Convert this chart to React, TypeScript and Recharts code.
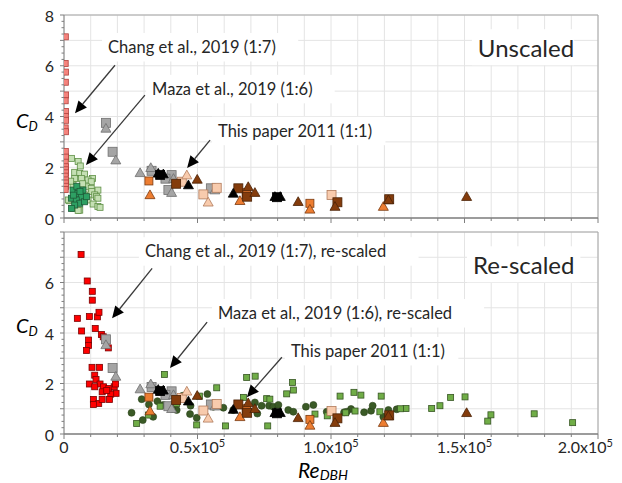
import React from "react";
import {
  CartesianGrid,
  ReferenceDot,
  ReferenceLine,
  Scatter,
  ScatterChart,
  XAxis,
  YAxis,
} from "recharts";

type Pt = [number, number];

// [Re_DBH, C_D]
const changUnscaled: Pt[] = [
  [500, 7.14], [450, 6.09], [550, 5.75], [500, 5.35], [600, 4.85], [450, 4.62],
  [550, 4.2], [500, 4.0], [600, 3.85], [450, 3.55], [550, 3.4], [500, 2.62],
  [600, 2.4], [450, 2.2], [550, 2.02], [500, 1.9], [600, 1.78], [450, 1.65],
  [550, 1.5], [500, 1.38], [600, 1.25], [450, 1.12],
];

const changRescaled: Pt[] = [
  [6400, 7.11], [8700, 6.06], [10600, 5.65], [10600, 5.3], [5000, 4.58], [9500, 4.65],
  [12500, 4.64], [13100, 4.82], [11700, 4.18], [6600, 4.08], [14000, 3.94], [14700, 3.85],
  [9200, 3.72], [9200, 3.51], [8400, 3.31], [16600, 3.41],
  [10500, 2.64], [13300, 2.64], [11500, 2.33], [12000, 2.16], [9500, 1.98], [13500, 1.98],
  [11500, 1.87], [14800, 1.87], [16800, 1.8], [18800, 1.87], [19300, 1.98], [19500, 1.61],
  [14300, 1.67], [17500, 1.58], [11000, 1.37], [13000, 1.21], [11000, 1.17], [17000, 1.37],
  [14300, 1.37], [16000, 1.72],
];

const mazaLightUnscaled: Pt[] = [
  [2800, 2.35], [5300, 2.23], [6100, 2.05], [4000, 1.8], [5900, 1.76], [7700, 1.73],
  [4000, 1.56], [6500, 1.56], [10700, 1.56], [9000, 1.5], [10200, 1.43], [3400, 1.3],
  [8400, 1.23], [10200, 1.17], [12700, 1.1], [10400, 1.04], [7700, 0.91], [11500, 0.91],
  [12200, 0.84], [12700, 0.78], [2100, 0.68], [4600, 0.64], [9000, 0.71], [10900, 0.55],
  [12700, 0.45], [13500, 0.42], [3400, 0.38], [5900, 0.31], [5300, 0.3], [1600, 0.71],
  [2500, 1.45], [7000, 1.35],
];

const mazaDarkUnscaled: Pt[] = [
  [3400, 1.1], [5200, 0.97], [6500, 0.84], [2800, 0.78], [4600, 0.71], [5900, 0.58],
  [7700, 0.64], [4000, 0.51], [2800, 0.38], [8400, 0.84], [7100, 1.1], [4800, 1.25],
  [6000, 1.05], [3500, 0.9],
];

const mazaSquaresRescaled: Pt[] = [
  [103400, 1.5], [108600, 1.65], [111200, 1.54], [118800, 1.5], [144800, 1.45], [150200, 1.47],
  [137700, 1.01], [140800, 1.12], [128100, 1.01], [126000, 1.0], [118300, 0.88], [109000, 0.91],
  [98600, 0.72], [94000, 0.79], [158700, 0.51], [159900, 0.76], [176100, 0.8], [190500, 0.45],
  [68400, 2.24], [71600, 2.29], [85600, 2.04], [85900, 1.74], [83400, 1.59], [57200, 1.83],
  [67200, 1.45], [75900, 1.4], [77100, 1.38], [49700, 0.36], [60500, 0.32], [76300, 0.32],
  [105500, 0.84], [37600, 2.36], [27200, 0.42], [31600, 0.75], [50700, 1.5], [42200, 1.21],
  [36000, 1.1],
];

const mazaCirclesRescaled: Pt[] = [
  [25300, 0.84], [29100, 1.38], [31800, 1.17], [29500, 0.55], [33400, 0.68], [37200, 1.15],
  [39700, 1.05], [42200, 0.95], [47200, 0.79], [49700, 0.64], [53700, 1.58], [55900, 1.08],
  [44400, 1.51], [47400, 1.12], [59700, 1.04], [63400, 0.95], [71500, 1.25], [72400, 0.81],
  [74000, 1.12], [76800, 1.12], [78400, 1.08], [80300, 1.15], [84000, 0.95], [85900, 0.88],
  [90600, 1.08], [93400, 1.15], [104900, 0.86], [107500, 0.99], [112400, 0.86], [115000, 0.92],
  [115600, 1.12], [119600, 0.68], [121500, 0.95], [98400, 0.88], [105900, 0.88], [124600, 0.98],
  [35000, 1.3], [40500, 1.0],
];

// this paper 2011 (1:1), same in both panels
const greySquares: Pt[] = [[15700, 3.75], [18200, 2.61], [32800, 1.86], [40300, 1.69], [39100, 1.1], [55000, 1.17], [38000, 1.55]];
const greyTriangles: Pt[] = [[15700, 3.53], [19400, 2.28], [28500, 1.78], [32500, 1.98], [40300, 1.0], [56500, 1.1], [41000, 1.55]];
const blackTriangles: Pt[] = [[35300, 1.76], [37200, 1.73], [46600, 1.3], [63400, 0.97], [79000, 0.84], [81000, 0.84]];
const blackSquares: Pt[] = [[79800, 0.82], [36000, 1.7]];
const orangeSquares: Pt[] = [[31800, 1.46], [68200, 0.91], [92100, 0.58], [68400, 1.0]];
const orangeTriangles: Pt[] = [[32200, 0.91], [65900, 0.68], [92100, 0.34], [119600, 0.45]];
const peachSquares: Pt[] = [[44100, 1.43], [52200, 0.93], [57200, 1.19], [100200, 0.91]];
const peachTriangles: Pt[] = [[46000, 1.69], [54000, 0.62]];
const brownTriangles: Pt[] = [[49900, 1.52], [69000, 1.23], [71500, 1.0], [87700, 0.64], [101500, 0.45], [150800, 0.84], [121500, 0.71]];
const brownSquares: Pt[] = [[65300, 1.17], [68600, 0.84], [102400, 0.62], [121800, 0.74], [42000, 1.35]];

const xLabels = ["0", "0.5x10^5", "1.0x10^5", "1.5x10^5", "2.0x10^5"];
const topYLabels = ["0", "2", "4", "6", "8"];
const bottomYLabels = ["0", "2", "4", "6"];

const topNotes = [
  { text: "Chang et al., 2019 (1:7)", x: 16500, y: 6.73, size: 16.5 },
  { text: "Maza et al., 2019 (1:6)", x: 33000, y: 5.08, size: 16.5 },
  { text: "This paper 2011 (1:1)", x: 57700, y: 3.43, size: 16.5 },
  { text: "Unscaled", x: 155000, y: 6.73, size: 24 },
];
const bottomNotes = [
  { text: "Chang et al., 2019 (1:7), re-scaled", x: 30300, y: 7.23, size: 16.5 },
  { text: "Maza et al., 2019 (1:6), re-scaled", x: 57700, y: 4.78, size: 16.5 },
  { text: "This paper 2011 (1:1)", x: 85000, y: 3.28, size: 16.5 },
  { text: "Re-scaled", x: 153200, y: 6.72, size: 24 },
];

const topArrows: [Pt, Pt][] = [
  [[19100, 6.02], [4120, 4.13]],
  [[30300, 4.84], [8240, 2.09]],
  [[54700, 3.07], [46100, 1.97]],
];
const bottomArrows: [Pt, Pt][] = [
  [[33000, 6.56], [18000, 4.58]],
  [[53600, 4.43], [39700, 2.61]],
  [[81600, 3.04], [68500, 1.46]],
];

const X_MAX = 200000;
const xTicks = Array.from({ length: 21 }, (_, i) => i * 10000);
const yTicks = Array.from({ length: 33 }, (_, i) => i * 0.25);
const gridX = xTicks;
const gridY = [0, 1, 2, 3, 4, 5, 6, 7, 8];

type Kind = "square" | "triangle" | "circle";
interface Series {
  data: Pt[];
  kind: Kind;
  size: number;
  fill: string;
  stroke: string;
}

const paperSeries: Series[] = [
  { data: greySquares, kind: "square", size: 9, fill: "#a5a5a5", stroke: "#6f6f6f" },
  { data: greyTriangles, kind: "triangle", size: 10, fill: "#a5a5a5", stroke: "#6f6f6f" },
  { data: peachSquares, kind: "square", size: 9, fill: "#f8cbad", stroke: "#b07a5a" },
  { data: peachTriangles, kind: "triangle", size: 10, fill: "#f8cbad", stroke: "#b07a5a" },
  { data: orangeSquares, kind: "square", size: 8, fill: "#ed7d31", stroke: "#7a3a10" },
  { data: orangeTriangles, kind: "triangle", size: 10, fill: "#ed7d31", stroke: "#7a3a10" },
  { data: brownSquares, kind: "square", size: 9, fill: "#843c0c", stroke: "#4a2206" },
  { data: brownTriangles, kind: "triangle", size: 10, fill: "#843c0c", stroke: "#4a2206" },
  { data: blackTriangles, kind: "triangle", size: 10, fill: "#000000", stroke: "#000000" },
  { data: blackSquares, kind: "square", size: 9, fill: "#000000", stroke: "#000000" },
];

const topSeries: Series[] = [
  { data: mazaLightUnscaled, kind: "square", size: 6, fill: "#c5e0b4", stroke: "#5e8f45" },
  { data: mazaDarkUnscaled, kind: "square", size: 6, fill: "#2ea063", stroke: "#1d5c38" },
  { data: changUnscaled, kind: "square", size: 6, fill: "#f4837d", stroke: "#b0403c" },
  ...paperSeries,
];

const bottomSeries: Series[] = [
  { data: mazaCirclesRescaled, kind: "circle", size: 7, fill: "#3a5a26", stroke: "#2a4219" },
  { data: mazaSquaresRescaled, kind: "square", size: 6, fill: "#70ad47", stroke: "#375623" },
  { data: changRescaled, kind: "square", size: 6, fill: "#ff0000", stroke: "#7a0000" },
  ...paperSeries,
];

const FONT = "Lato, 'Open Sans', sans-serif";
const AXIS = "#7f7f7f";
const BORDER = "#a6a6a6";

function Marker(p: any) {
  const { cx, cy, kind, size, fill, stroke } = p;
  if (cx == null || cy == null) return null;
  const h = size / 2;
  if (kind === "square") {
    return <rect x={cx - h} y={cy - h} width={size} height={size} fill={fill} stroke={stroke} strokeWidth={0.8} />;
  }
  if (kind === "circle") {
    return <circle cx={cx} cy={cy} r={h} fill={fill} stroke={stroke} strokeWidth={0.6} />;
  }
  const pts = `${cx},${cy - h} ${cx + h},${cy + h * 0.75} ${cx - h},${cy + h * 0.75}`;
  return <polygon points={pts} fill={fill} stroke={stroke} strokeWidth={0.8} />;
}

function Arrow(p: any) {
  const { x1, y1, x2, y2 } = p;
  const dx = x2 - x1;
  const dy = y2 - y1;
  const len = Math.hypot(dx, dy) || 1;
  const ux = dx / len;
  const uy = dy / len;
  const hl = 12;
  const hw = 5.5;
  const bx = x2 - ux * hl;
  const by = y2 - uy * hl;
  const head = `${x2},${y2} ${bx - uy * hw},${by + ux * hw} ${bx + uy * hw},${by - ux * hw}`;
  return (
    <g>
      <line x1={x1} y1={y1} x2={bx} y2={by} stroke="#3a3a3a" strokeWidth={1.3} />
      <polygon points={head} fill="#000" />
    </g>
  );
}

function NoteBox(p: any) {
  const { cx, cy, text, size } = p;
  const w = text.length * size * 0.46 + 14;
  const h = size + 12;
  return (
    <g>
      <rect x={cx - 6} y={cy - h / 2} width={w} height={h} fill="#ffffff" />
      <text x={cx} y={cy} dominantBaseline="central" fontSize={size} fill="#262626" fontFamily={FONT}>
        {text}
      </text>
    </g>
  );
}

function XTick(p: any) {
  const { x, y, payload, showLabels } = p;
  const v = payload.value;
  const major = v % 50000 === 0;
  const raw = showLabels && major ? xLabels[v / 50000] : null;
  let label: React.ReactNode = null;
  if (raw) {
    const [base, sup] = raw.split("^");
    const last = v === X_MAX;
    label = (
      <text
        x={last ? x + 15 : x}
        y={y + 19}
        textAnchor={last ? "end" : "middle"}
        fontSize={16}
        fill="#262626"
        fontFamily={FONT}
      >
        {base}
        {sup && (
          <tspan fontSize={11} dy={-6}>
            {sup}
          </tspan>
        )}
      </text>
    );
  }
  return (
    <g>
      <line x1={x} x2={x} y1={y} y2={y + (major ? 5 : 3)} stroke={AXIS} strokeWidth={1} />
      {label}
    </g>
  );
}

function YTick(p: any) {
  const { x, y, payload, labels } = p;
  const v = payload.value;
  const isInt = Math.abs(v - Math.round(v)) < 1e-6;
  const idx = isInt && Math.round(v) % 2 === 0 ? Math.round(v) / 2 : -1;
  const label = idx >= 0 ? labels[idx] : undefined;
  return (
    <g>
      <line x1={x - (isInt ? 4 : 2.5)} x2={x} y1={y} y2={y} stroke={AXIS} strokeWidth={1} />
      {label !== undefined && (
        <text x={x - 10} y={y} textAnchor="end" dominantBaseline="central" fontSize={16} fill="#262626" fontFamily={FONT}>
          {label}
        </text>
      )}
    </g>
  );
}

function Panel({
  height,
  margin,
  xAxisHeight,
  showXLabels,
  yLabels,
  series,
  notes,
  arrows,
}: {
  height: number;
  margin: { top: number; right: number; bottom: number; left: number };
  xAxisHeight: number;
  showXLabels: boolean;
  yLabels: string[];
  series: Series[];
  notes: { text: string; x: number; y: number; size: number }[];
  arrows: [Pt, Pt][];
}) {
  return (
    <ScatterChart width={622} height={height} margin={margin}>
      <CartesianGrid stroke="#e4e4e4" horizontalValues={gridY} verticalValues={gridX} />
      <ReferenceLine y={8} stroke={BORDER} strokeWidth={1} />
      <ReferenceLine x={X_MAX} stroke={BORDER} strokeWidth={1} />
      {notes.map((n, i) => (
        <ReferenceDot
          key={`n${i}`}
          x={n.x}
          y={n.y}
          ifOverflow="visible"
          shape={(p: any) => <NoteBox {...p} text={n.text} size={n.size} />}
        />
      ))}
      <XAxis
        type="number"
        dataKey="x"
        domain={[0, X_MAX]}
        ticks={xTicks}
        interval={0}
        height={xAxisHeight}
        tickLine={false}
        tickSize={0}
        tickMargin={0}
        tick={(p: any) => <XTick {...p} showLabels={showXLabels} />}
        axisLine={{ stroke: AXIS, strokeWidth: 1.5 }}
        allowDataOverflow
      />
      <YAxis
        type="number"
        dataKey="y"
        domain={[0, 8]}
        ticks={yTicks}
        interval={0}
        width={64}
        tickLine={false}
        tickSize={0}
        tickMargin={0}
        tick={(p: any) => <YTick {...p} labels={yLabels} />}
        axisLine={{ stroke: AXIS, strokeWidth: 1 }}
        allowDataOverflow
      />
      {series.map((s, i) => (
        <Scatter
          key={`s${i}`}
          data={s.data.map(([x, y]) => ({ x, y }))}
          isAnimationActive={false}
          shape={(p: any) => <Marker {...p} kind={s.kind} size={s.size} fill={s.fill} stroke={s.stroke} />}
        />
      ))}
      {arrows.map(([a, b], i) => (
        <ReferenceLine
          key={`a${i}`}
          segment={[
            { x: a[0], y: a[1] },
            { x: b[0], y: b[1] },
          ]}
          ifOverflow="visible"
          shape={(p: any) => <Arrow {...p} />}
        />
      ))}
    </ScatterChart>
  );
}

export default function App() {
  return (
    <div style={{ position: "absolute", left: 0, top: 0, width: 622, height: 483, background: "#fff", fontFamily: FONT }}>
      <div style={{ position: "absolute", left: 0, top: 0 }}>
        <Panel
          height={226}
          margin={{ top: 15, right: 24, bottom: 2, left: 0 }}
          xAxisHeight={6}
          showXLabels={false}
          yLabels={topYLabels}
          series={topSeries}
          notes={topNotes}
          arrows={topArrows}
        />
      </div>
      <div style={{ position: "absolute", left: 0, top: 226 }}>
        <Panel
          height={257}
          margin={{ top: 6, right: 24, bottom: 0, left: 0 }}
          xAxisHeight={49}
          showXLabels
          yLabels={bottomYLabels}
          series={bottomSeries}
          notes={bottomNotes}
          arrows={bottomArrows}
        />
      </div>
      <svg width={622} height={483} style={{ position: "absolute", left: 0, top: 0, pointerEvents: "none" }}>
        <text x={16} y={128} fontSize={20} fontStyle="italic" fill="#000" fontFamily={FONT}>
          C<tspan fontSize={13} dy={3}>D</tspan>
        </text>
        <text x={16} y={333} fontSize={20} fontStyle="italic" fill="#000" fontFamily={FONT}>
          C<tspan fontSize={13} dy={3}>D</tspan>
        </text>
        <text x={298} y={477.5} fontSize={21} fontStyle="italic" fill="#000" fontFamily={FONT}>
          Re<tspan fontSize={14} dy={2}>DBH</tspan>
        </text>
      </svg>
    </div>
  );
}
